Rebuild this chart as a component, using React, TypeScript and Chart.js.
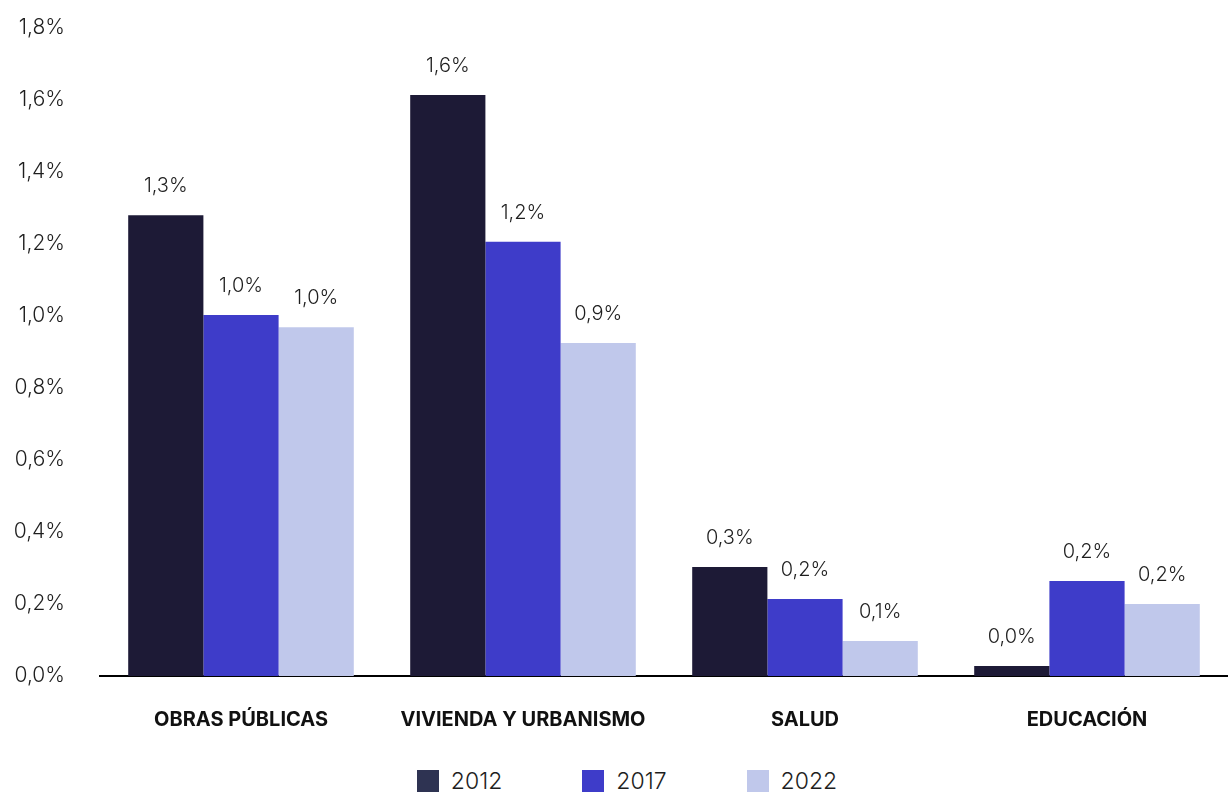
import React, { useEffect, useRef } from "react";
import { Chart, registerables } from "chart.js";

Chart.register(...registerables);

const categories = ["OBRAS PÚBLICAS", "VIVIENDA Y URBANISMO", "SALUD", "EDUCACIÓN"];
const seriesNames = ["2012", "2017", "2022"];
const values2012 = [1.28, 1.614, 0.303, 0.028];
const values2017 = [1.003, 1.206, 0.214, 0.264];
const values2022 = [0.969, 0.925, 0.097, 0.2];
const labels2012 = ["1,3%", "1,6%", "0,3%", "0,0%"];
const labels2017 = ["1,0%", "1,2%", "0,2%", "0,2%"];
const labels2022 = ["1,0%", "0,9%", "0,1%", "0,2%"];
const yTicks = [0, 0.2, 0.4, 0.6, 0.8, 1.0, 1.2, 1.4, 1.6, 1.8];

const barColors = ["#1d1a36", "#3e3cc9", "#c0c8eb"];
const legendColors = ["#2e3352", "#3e3cc9", "#c0c8eb"];
const FONT = "Inter, 'Noto Sans', sans-serif";
const TEXT = "#1e1e1e";

const valueLabelPlugin = {
  id: "valueLabels",
  afterDatasetsDraw(chart: any) {
    const ctx = chart.ctx;
    const all = [labels2012, labels2017, labels2022];
    ctx.save();
    ctx.font = `300 20px ${FONT}`;
    ctx.fillStyle = TEXT;
    ctx.textAlign = "center";
    ctx.textBaseline = "middle";
    chart.data.datasets.forEach((_: any, di: number) => {
      const meta = chart.getDatasetMeta(di);
      meta.data.forEach((bar: any, i: number) => {
        ctx.fillText(all[di][i], bar.x, bar.y - 29);
      });
    });
    ctx.restore();
  },
};

export default function App() {
  const canvasRef = useRef<HTMLCanvasElement | null>(null);

  useEffect(() => {
    if (!canvasRef.current) return;
    const chart = new Chart(canvasRef.current, {
      type: "bar",
      data: {
        labels: categories,
        datasets: [values2012, values2017, values2022].map((d, i) => ({
          label: seriesNames[i],
          data: d,
          backgroundColor: barColors[i],
          borderWidth: 0,
          categoryPercentage: 0.8,
          barPercentage: 1.0,
        })),
      },
      options: {
        animation: false,
        responsive: true,
        maintainAspectRatio: false,
        layout: { padding: { top: 28, right: 0, left: 0, bottom: 0 } },
        plugins: {
          legend: { display: false },
          tooltip: { enabled: false },
        },
        scales: {
          x: {
            grid: { display: false, drawTicks: false },
            border: { display: true, color: "#000000", width: 2 },
            ticks: {
              padding: 32,
              color: "#111111",
              font: { family: FONT, size: 20, weight: "700" },
              maxRotation: 0,
              autoSkip: false,
            },
            afterFit: (s: any) => {
              s.height = 60;
            },
          },
          y: {
            min: 0,
            max: 1.8,
            grid: { display: false, drawTicks: false },
            border: { display: false },
            afterBuildTicks: (s: any) => {
              s.ticks = yTicks.map((v) => ({ value: v }));
            },
            ticks: {
              padding: 35,
              color: TEXT,
              font: { family: FONT, size: 21, weight: "300" },
              callback: (v: any) => Number(v).toFixed(1).replace(".", ",") + "%",
            },
            afterFit: (s: any) => {
              s.width = 100;
              s.paddingTop = 0;
              s.paddingBottom = 0;
            },
          },
        },
      },
      plugins: [valueLabelPlugin],
    });
    return () => chart.destroy();
  }, []);

  return (
    <div style={{ position: "absolute", left: 0, top: 0, width: 1228, height: 792, overflow: "hidden", background: "#ffffff" }}>
      <div style={{ position: "relative", width: 1228, height: 736 }}>
        <canvas ref={canvasRef} />
      </div>
      <div
        style={{
          display: "flex",
          justifyContent: "center",
          paddingLeft: 26,
          marginTop: 34,
          fontFamily: FONT,
          fontWeight: 300,
          fontSize: 23,
          lineHeight: "22px",
          color: TEXT,
        }}
      >
        {seriesNames.map((name, i) => (
          <div key={name} style={{ display: "flex", alignItems: "center", marginLeft: i === 0 ? 0 : 80 }}>
            <span style={{ display: "inline-block", width: 22, height: 22, background: legendColors[i], marginRight: 12 }} />
            <span>{name}</span>
          </div>
        ))}
      </div>
    </div>
  );
}
